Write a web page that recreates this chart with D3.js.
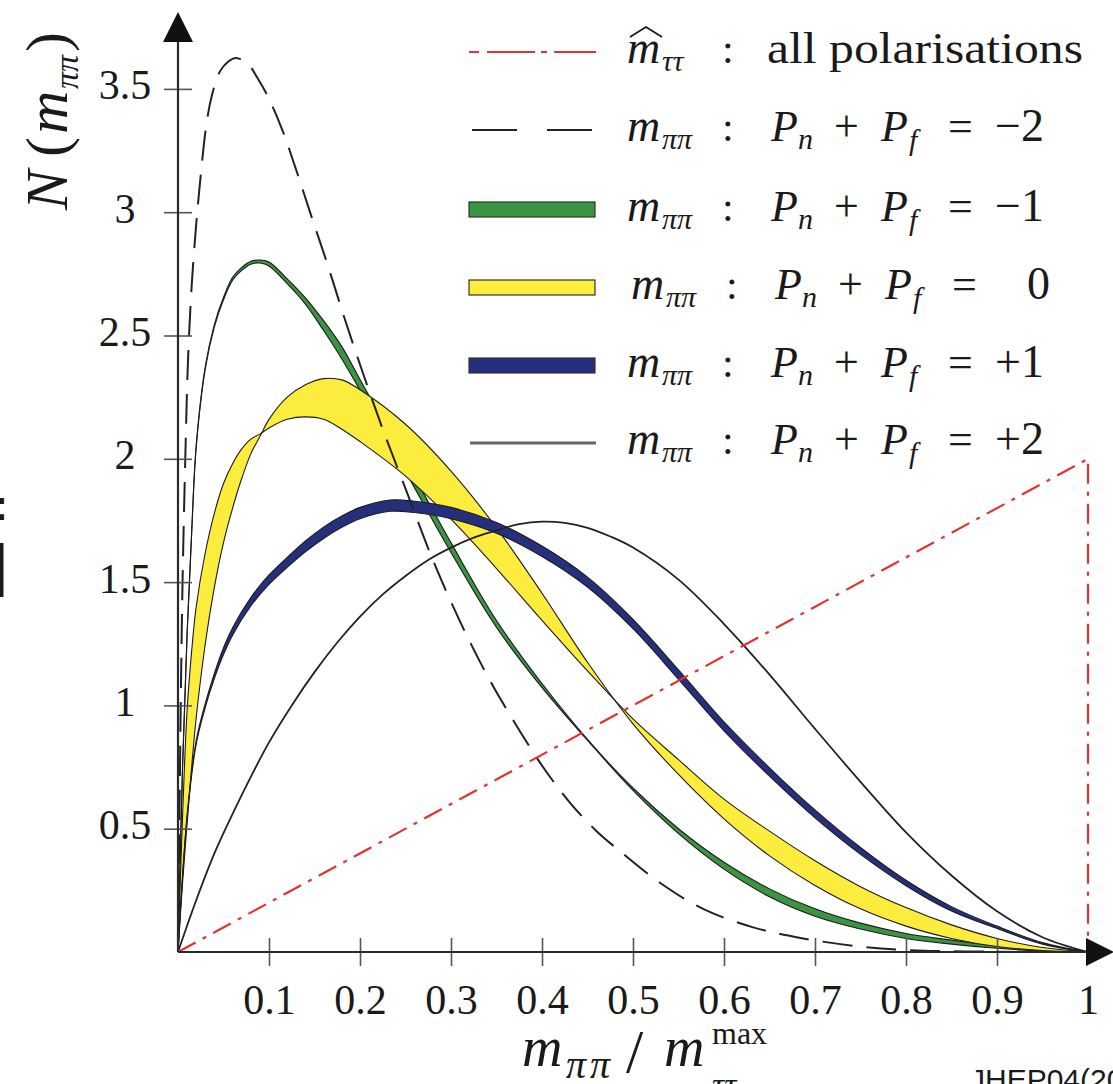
<!DOCTYPE html>
<html>
<head>
<meta charset="utf-8">
<script src="https://cdn.jsdelivr.net/npm/d3@7"></script>
<style>
  body { margin: 0; background: #fff; }
  svg { display: block; }
  text { font-family: "Liberation Serif", "DejaVu Serif", serif; fill: #1a1a1a; }
  .sans { font-family: "Liberation Sans", "DejaVu Sans", sans-serif; }
</style>
</head>
<body>
<svg id="chart" width="1113" height="1084"></svg>
<script>
/* N(m_pipi) for the different polarisation sums */

// x ticks and labels
const xTicks = [0.1, 0.2, 0.3, 0.4, 0.5, 0.6, 0.7, 0.8, 0.9, 1];
const xTickLabels = ['0.1', '0.2', '0.3', '0.4', '0.5', '0.6', '0.7', '0.8', '0.9', '1'];
const yTicks = [0.5, 1, 1.5, 2, 2.5, 3, 3.5];
const yTickLabels = ['0.5', '1', '1.5', '2', '2.5', '3', '3.5'];

// m_tautau hat, all polarisations: [x, N]
const allPolarisations = [[0, 0], [1, 2], [1, 0]];

// P_n + P_f = -2 (dashed): [x, N]
const sumMinus2 = [
  [0, 0], [0.003, 1.0], [0.005, 1.5], [0.008, 2.0], [0.011, 2.4], [0.015, 2.7],
  [0.02, 2.95], [0.025, 3.15], [0.031, 3.35], [0.037, 3.47], [0.046, 3.57],
  [0.055, 3.61], [0.064, 3.625], [0.077, 3.6], [0.088, 3.54], [0.1, 3.46],
  [0.115, 3.33], [0.13, 3.17], [0.146, 2.99], [0.165, 2.78], [0.183, 2.57],
  [0.203, 2.35], [0.225, 2.12], [0.252, 1.86], [0.28, 1.59], [0.31, 1.34],
  [0.34, 1.12], [0.37, 0.93], [0.403, 0.74], [0.432, 0.60], [0.46, 0.49],
  [0.482, 0.42], [0.53, 0.28], [0.577, 0.175], [0.632, 0.10], [0.684, 0.057],
  [0.75, 0.022], [0.8, 0.008], [0.9, 0.001], [1, 0]
];

// P_n + P_f = -1 (green band): [x, low, high]
const sumMinus1 = [
  [0, 0, 0], [0.005, 0.74, 0.76], [0.01, 1.285, 1.295], [0.015, 1.695, 1.705],
  [0.02, 2.045, 2.055], [0.03, 2.365, 2.375], [0.04, 2.535, 2.545],
  [0.05, 2.645, 2.655], [0.06, 2.724, 2.736], [0.07, 2.764, 2.776],
  [0.08, 2.789, 2.801], [0.09, 2.794, 2.806], [0.1, 2.782, 2.798],
  [0.12, 2.71, 2.73], [0.14, 2.627, 2.653], [0.16, 2.52, 2.56],
  [0.18, 2.405, 2.455], [0.2, 2.278, 2.322], [0.25, 1.948, 1.992],
  [0.3, 1.62, 1.66], [0.35, 1.316, 1.344], [0.4, 1.072, 1.088],
  [0.45, 0.858, 0.862], [0.5, 0.655, 0.665], [0.55, 0.48, 0.50],
  [0.6, 0.336, 0.364], [0.65, 0.224, 0.256], [0.7, 0.145, 0.175],
  [0.75, 0.093, 0.117], [0.8, 0.055, 0.075], [0.85, 0.032, 0.048],
  [0.9, 0.015, 0.025], [0.95, 0.004, 0.008], [1, 0, 0]
];

// P_n + P_f = 0 (yellow band): [x, edge A, edge B]
const sumZero = [
  [0, 0, 0], [0.005, 0.55, 0.28], [0.01, 0.98, 0.52], [0.015, 1.22, 0.75],
  [0.02, 1.40, 0.95], [0.03, 1.62, 1.25], [0.04, 1.78, 1.48], [0.05, 1.90, 1.66],
  [0.06, 1.98, 1.80], [0.07, 2.04, 1.92], [0.08, 2.08, 2.02], [0.09, 2.10, 2.09],
  [0.1, 2.125, 2.16], [0.12, 2.16, 2.25], [0.14, 2.17, 2.30], [0.16, 2.16, 2.325],
  [0.18, 2.12, 2.32], [0.2, 2.07, 2.28], [0.25, 1.93, 2.14], [0.3, 1.755, 1.95],
  [0.35, 1.555, 1.72], [0.4, 1.345, 1.455], [0.45, 1.14, 1.175], [0.5, 0.945, 0.925],
  [0.55, 0.78, 0.72], [0.6, 0.62, 0.54], [0.65, 0.49, 0.39], [0.7, 0.37, 0.27],
  [0.75, 0.265, 0.175], [0.8, 0.18, 0.105], [0.85, 0.11, 0.055], [0.9, 0.055, 0.022],
  [0.95, 0.018, 0.006], [1, 0, 0]
];

// P_n + P_f = +1 (blue band): [x, low, high]
const sumPlus1 = [
  [0, 0, 0], [0.01, 0.545, 0.555], [0.02, 0.843, 0.857], [0.03, 0.992, 1.008],
  [0.04, 1.11, 1.13], [0.05, 1.206, 1.234], [0.06, 1.285, 1.315], [0.08, 1.403, 1.437],
  [0.1, 1.491, 1.529], [0.12, 1.560, 1.600], [0.14, 1.623, 1.667], [0.16, 1.677, 1.723],
  [0.18, 1.722, 1.768], [0.2, 1.757, 1.803], [0.233, 1.787, 1.833], [0.26, 1.782, 1.828],
  [0.3, 1.757, 1.803], [0.35, 1.698, 1.742], [0.4, 1.604, 1.646], [0.45, 1.48, 1.52],
  [0.5, 1.311, 1.349], [0.55, 1.106, 1.144], [0.6, 0.897, 0.933], [0.65, 0.713, 0.747],
  [0.7, 0.544, 0.576], [0.75, 0.396, 0.424], [0.8, 0.269, 0.291], [0.85, 0.166, 0.184],
  [0.9, 0.095, 0.105], [0.95, 0.032, 0.038], [1, 0, 0]
];

// P_n + P_f = +2 (thin line): [x, N]
const sumPlus2 = [
  [0, 0], [0.02, 0.21], [0.04, 0.40], [0.06, 0.56], [0.08, 0.71], [0.1, 0.85],
  [0.125, 1.0], [0.15, 1.135], [0.175, 1.255], [0.2, 1.36], [0.225, 1.45],
  [0.25, 1.525], [0.275, 1.59], [0.3, 1.64], [0.325, 1.68], [0.35, 1.71],
  [0.375, 1.735], [0.4, 1.745], [0.425, 1.74], [0.45, 1.72], [0.475, 1.685],
  [0.5, 1.64], [0.55, 1.51], [0.6, 1.33], [0.65, 1.125], [0.7, 0.905],
  [0.75, 0.69], [0.8, 0.485], [0.85, 0.31], [0.9, 0.165], [0.95, 0.06], [1, 0]
];

const legendValues = ['\u22122', '\u22121', '0', '+1', '+2'];

const colors = {
  red: '#e2342f',
  green: '#3a9442',
  yellow: '#fbec3e',
  blue: '#262f7c',
  edge: '#1c1c1c',
  axis: '#2a2a2a'
};

(function() {
  'use strict';

  const svg = d3.select('#chart');
  svg.append('rect').attr('width', 1113).attr('height', 1084).attr('fill', '#fff');

  const x = d3.scaleLinear().domain([0, 1]).range([178, 1088]);
  const y = d3.scaleLinear().domain([0, 3.5]).range([952, 88.9]);

  const curve = d3.curveCatmullRom.alpha(0.5);

  const band = d3.area()
    .x(d => x(d[0]))
    .y0(d => y(d[1]))
    .y1(d => y(d[2]))
    .curve(curve);

  const edge = i => d3.line()
    .x(d => x(d[0]))
    .y(d => y(d[i]))
    .curve(curve);

  const plot = svg.append('g');

  // Bands: green, yellow, blue
  function drawBand(data, fill) {
    plot.append('path')
      .attr('d', band(data))
      .attr('fill', fill)
      .attr('stroke', 'none');
    [1, 2].forEach(i => {
      plot.append('path')
        .attr('d', edge(i)(data))
        .attr('fill', 'none')
        .attr('stroke', colors.edge)
        .attr('stroke-width', 1.1);
    });
  }
  drawBand(sumMinus1, colors.green);
  drawBand(sumZero, colors.yellow);
  drawBand(sumPlus1, colors.blue);

  // +2 thin line
  plot.append('path')
    .attr('d', edge(1)(sumPlus2))
    .attr('fill', 'none')
    .attr('stroke', '#222')
    .attr('stroke-width', 1.8);

  // -2 dashed
  plot.append('path')
    .attr('d', edge(1)(sumMinus2))
    .attr('fill', 'none')
    .attr('stroke', '#222')
    .attr('stroke-width', 2)
    .attr('stroke-dasharray', '30,14');

  // all polarisations, dash-dot red
  plot.append('path')
    .attr('d', d3.line().x(d => x(d[0])).y(d => y(d[1]))(allPolarisations))
    .attr('fill', 'none')
    .attr('stroke', colors.red)
    .attr('stroke-width', 2.2)
    .attr('stroke-dasharray', '20,8,4,8');

  // Axes
  const gx = svg.append('g')
    .attr('transform', 'translate(0,952)')
    .call(d3.axisBottom(x).tickValues(xTicks).tickFormat((d, i) => xTickLabels[i]).tickSize(0));
  gx.select('.domain').remove();
  gx.selectAll('.tick line')
    .attr('y1', -14).attr('y2', 14)
    .attr('stroke', '#555').attr('stroke-width', 1.6)
    .attr('display', d => d < 1 ? null : 'none');
  gx.selectAll('.tick text')
    .attr('y', 62).attr('dy', 0)
    .attr('font-family', null).attr('font-size', null)
    .style('font-size', '42px');

  const gy = svg.append('g')
    .attr('transform', 'translate(178,0)')
    .call(d3.axisLeft(y).tickValues(yTicks).tickFormat((d, i) => yTickLabels[i]).tickSize(0));
  gy.select('.domain').remove();
  gy.selectAll('.tick line')
    .attr('x1', -14).attr('x2', 14)
    .attr('stroke', '#555').attr('stroke-width', 1.6);
  gy.selectAll('.tick text')
    .attr('x', -53).attr('y', 10).attr('dy', 0)
    .attr('text-anchor', 'middle')
    .attr('font-family', null).attr('font-size', null)
    .style('font-size', '42px');

  // Axis lines with arrow heads
  svg.append('path')
    .attr('d', 'M178,952V40M178,952H1090')
    .attr('stroke', colors.axis).attr('stroke-width', 2.2).attr('fill', 'none');
  svg.append('path').attr('d', 'M178,12L163,42L193,42Z').attr('fill', '#111');
  svg.append('path').attr('d', 'M1114,952L1086,938L1086,966Z').attr('fill', '#111');

  // Axis titles
  const yl = svg.append('g').attr('transform', 'translate(67,210) rotate(-90)');
  yl.append('text').attr('x', 0).attr('y', 0).style('font-size', '60px').style('font-style', 'italic').text('N');
  yl.append('text').attr('x', 53).attr('y', 0).style('font-size', '60px').text('(');
  yl.append('text').attr('x', 76).attr('y', 0).style('font-size', '60px').style('font-style', 'italic').text('m');
  yl.append('text').attr('x', 121).attr('y', 11).style('font-size', '34px').style('font-style', 'italic').text('\u03c0\u03c0');
  yl.append('text').attr('x', 158).attr('y', 0).style('font-size', '60px').text(')');

  function tok(g, x0, yb, s, size, italic) {
    return g.append('text')
      .attr('x', x0).attr('y', yb)
      .style('font-size', size + 'px')
      .style('font-style', italic ? 'italic' : 'normal')
      .text(s);
  }

  const xl = svg.append('g');
  tok(xl, 522, 1066, 'm', 56, true);
  tok(xl, 566, 1078, '\u03c0\u03c0', 40, true).style('letter-spacing', '4px');
  tok(xl, 626, 1072, '/', 62, false);
  tok(xl, 664, 1066, 'm', 56, true);
  tok(xl, 712, 1044, 'max', 32, false);
  tok(xl, 712, 1096, '\u03c4\u03c4', 34, true);

  // Legend
  const lg = svg.append('g');
  const rowY = [52, 130, 210, 288, 366, 443];

  lg.append('line').attr('x1', 469).attr('x2', 596).attr('y1', rowY[0]).attr('y2', rowY[0])
    .attr('stroke', colors.red).attr('stroke-width', 2.2)
    .attr('stroke-dasharray', '10,8,48,6,6,7,42');
  lg.append('line').attr('x1', 472).attr('x2', 596).attr('y1', rowY[1]).attr('y2', rowY[1])
    .attr('stroke', '#222').attr('stroke-width', 2.2)
    .attr('stroke-dasharray', '45,30');
  [[colors.green, 2], [colors.yellow, 3], [colors.blue, 4]].forEach(([c, r]) => {
    lg.append('rect').attr('x', 469).attr('y', rowY[r] - 8).attr('width', 126).attr('height', 15)
      .attr('fill', c).attr('stroke', '#333').attr('stroke-width', 1.2);
  });
  lg.append('line').attr('x1', 470).attr('x2', 596).attr('y1', rowY[5]).attr('y2', rowY[5])
    .attr('stroke', '#666').attr('stroke-width', 3);

  // row 1 text
  const b0 = rowY[0] + 11;
  tok(lg, 627, b0, 'm', 46, true);
  lg.append('path').attr('d', 'M630,37L646,27L662,37')
    .attr('fill', 'none').attr('stroke', '#1a1a1a').attr('stroke-width', 1.8);
  tok(lg, 662, b0 + 8, '\u03c4\u03c4', 30, true);
  tok(lg, 722, b0, ':', 42, false);
  tok(lg, 767, b0, 'all polarisations', 44, false)
    .attr('textLength', 316).attr('lengthAdjust', 'spacingAndGlyphs');

  legendValues.forEach((v, i) => {
    const b = rowY[i + 1] + 11;
    const dx = v === '0' ? 4 : 0;
    tok(lg, 627 + dx, b, 'm', 46, true);
    tok(lg, 662 + dx, b + 8, '\u03c0\u03c0', 30, true);
    tok(lg, 722 + dx, b, ':', 42, false);
    tok(lg, 771 + dx, b, 'P', 44, true);
    tok(lg, 798 + dx, b + 8, 'n', 30, true);
    tok(lg, 834 + dx, b, '+', 44, false);
    tok(lg, 881 + dx, b, 'P', 44, true);
    tok(lg, 909 + dx, b + 9, 'f', 30, true);
    tok(lg, 948 + dx, b, '=', 44, false);
    tok(lg, v === '0' ? 1027 : 995, b, v, 46, false);
  });

  // Cropped slide fragments
  svg.append('text').attr('class', 'sans').attr('x', 970).attr('y', 1090)
    .style('font-size', '30px').text('JHEP04(2011)');
  svg.append('text').attr('class', 'sans').attr('x', -6).attr('y', 520)
    .style('font-size', '42px').style('font-weight', 'bold').text(':');
  svg.append('text').attr('class', 'sans').attr('x', -8).attr('y', 597)
    .style('font-size', '74px').text('l');
})();
</script>
</body>
</html>
